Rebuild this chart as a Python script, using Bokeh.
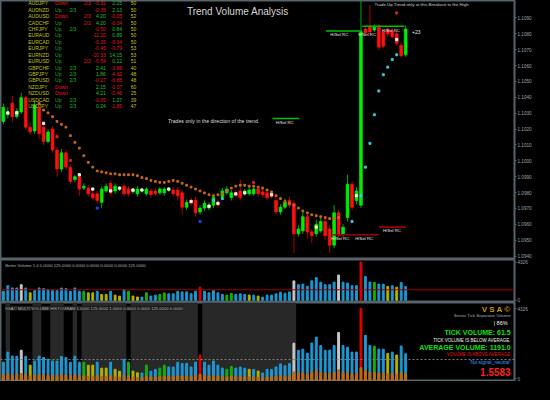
from bokeh.plotting import figure
from bokeh.layouts import column
from bokeh.models import (Range1d, FixedTicker, Span, Label, ColumnDataSource,
                          PrintfTickFormatter, BoxAnnotation, GlobalInlineStyleSheet)
from bokeh.core.properties import value
from bokeh.embed import file_html
from bokeh.resources import INLINE

# ---------------------------------------------------------------- data
open_ = [1.10248, 1.10290, 1.10362, 1.10278, 1.10308, 1.10398, 1.10212, 1.10188, 1.10332, 1.10212,
         1.10122, 1.10200, 1.10068, 1.09948, 1.10050, 1.09960, 1.09882, 1.09900, 1.09828, 1.09828,
         1.09792, 1.09792, 1.09738, 1.09810, 1.09858, 1.09810, 1.09822, 1.09840, 1.09822, 1.09804,
         1.09792, 1.09810, 1.09792, 1.09810, 1.09810, 1.09798, 1.09798, 1.09816, 1.09816, 1.09816,
         1.09798, 1.09708, 1.09750, 1.09750, 1.09678, 1.09702, 1.09702, 1.09720, 1.09738, 1.09774,
         1.09798, 1.09768, 1.09798, 1.09810, 1.09792, 1.09792, 1.09792, 1.09822, 1.09804, 1.09798,
         1.09798, 1.09750, 1.09678, 1.09708, 1.09750, 1.09732, 1.09540, 1.09558, 1.09648, 1.09552,
         1.09540, 1.09558, 1.09618, 1.09570, 1.09468, 1.09672, 1.09540, 1.09642, 1.09852, 1.09750,
         1.09720, 1.10830, 1.10842, 1.10824, 1.10848, 1.10812, 1.10830, 1.10818, 1.10800, 1.10728,
         1.10668]
high = [1.10362, 1.10338, 1.10410, 1.10332, 1.10428, 1.10410, 1.10242, 1.10380, 1.10350, 1.10230,
        1.10200, 1.10218, 1.10086, 1.10074, 1.10068, 1.09978, 1.09912, 1.09918, 1.09858, 1.09846,
        1.09810, 1.09810, 1.09840, 1.09858, 1.09876, 1.09858, 1.09840, 1.09858, 1.09840, 1.09828,
        1.09840, 1.09828, 1.09834, 1.09828, 1.09828, 1.09834, 1.09834, 1.09834, 1.09834, 1.09834,
        1.09816, 1.09756, 1.09768, 1.09774, 1.09720, 1.09750, 1.09738, 1.09786, 1.09756, 1.09828,
        1.09840, 1.09816, 1.09816, 1.09882, 1.09822, 1.09834, 1.09840, 1.09840, 1.09822, 1.09816,
        1.09810, 1.09780, 1.09726, 1.09762, 1.09774, 1.09750, 1.09594, 1.09678, 1.09672, 1.09570,
        1.09630, 1.09642, 1.09642, 1.09594, 1.09720, 1.09690, 1.09600, 1.09912, 1.09870, 1.09834,
        1.11070, 1.10848, 1.10980, 1.10860, 1.10860, 1.10830, 1.10848, 1.10836, 1.10818, 1.10746,
        1.10854]
low = [1.10230, 1.10266, 1.10242, 1.10266, 1.10296, 1.10194, 1.10164, 1.10170, 1.10140, 1.10098,
       1.10110, 1.10050, 1.09900, 1.09930, 1.09942, 1.09852, 1.09864, 1.09780, 1.09816, 1.09774,
       1.09750, 1.09732, 1.09702, 1.09798, 1.09780, 1.09792, 1.09810, 1.09774, 1.09774, 1.09792,
       1.09774, 1.09798, 1.09780, 1.09768, 1.09780, 1.09786, 1.09780, 1.09804, 1.09774, 1.09750,
       1.09660, 1.09690, 1.09714, 1.09648, 1.09660, 1.09684, 1.09690, 1.09702, 1.09708, 1.09756,
       1.09786, 1.09750, 1.09768, 1.09750, 1.09780, 1.09780, 1.09780, 1.09774, 1.09768, 1.09750,
       1.09762, 1.09660, 1.09660, 1.09696, 1.09702, 1.09420, 1.09522, 1.09540, 1.09510, 1.09480,
       1.09522, 1.09546, 1.09498, 1.09420, 1.09450, 1.09510, 1.09522, 1.09618, 1.09690, 1.09726,
       1.09702, 1.10794, 1.10794, 1.10812, 1.10698, 1.10710, 1.10782, 1.10770, 1.10722, 1.10650,
       1.10656]
close = [1.10338, 1.10302, 1.10278, 1.10314, 1.10398, 1.10212, 1.10182, 1.10350, 1.10170, 1.10122,
         1.10182, 1.10068, 1.09948, 1.10050, 1.09960, 1.09870, 1.09900, 1.09822, 1.09840, 1.09792,
         1.09768, 1.09750, 1.09822, 1.09840, 1.09798, 1.09840, 1.09828, 1.09792, 1.09792, 1.09816,
         1.09822, 1.09816, 1.09822, 1.09786, 1.09792, 1.09822, 1.09822, 1.09822, 1.09792, 1.09780,
         1.09708, 1.09738, 1.09732, 1.09672, 1.09702, 1.09732, 1.09720, 1.09768, 1.09720, 1.09810,
         1.09822, 1.09798, 1.09780, 1.09768, 1.09810, 1.09816, 1.09822, 1.09792, 1.09786, 1.09768,
         1.09774, 1.09678, 1.09708, 1.09738, 1.09720, 1.09540, 1.09570, 1.09648, 1.09552, 1.09528,
         1.09600, 1.09618, 1.09528, 1.09468, 1.09672, 1.09540, 1.09582, 1.09852, 1.09708, 1.09810,
         1.10812, 1.10806, 1.10812, 1.10842, 1.10716, 1.10722, 1.10800, 1.10782, 1.10740, 1.10662,
         1.10830]

# trailing-stop dots (bar 8 .. 75)
trail_start = 8
trail = [1.10362, 1.10320, 1.10302, 1.10278, 1.10248, 1.10230, 1.10212, 1.10158, 1.10116, 1.10080,
         1.10032, 1.09990, 1.09960, 1.09936, 1.09930, 1.09924, 1.09918, 1.09918, 1.09912, 1.09912,
         1.09912, 1.09912, 1.09906, 1.09894, 1.09888, 1.09876, 1.09870, 1.09864, 1.09864, 1.09870,
         1.09876, 1.09870, 1.09858, 1.09846, 1.09834, 1.09822, 1.09810, 1.09798, 1.09786, 1.09780,
         1.09786, 1.09792, 1.09810, 1.09828, 1.09840, 1.09846, 1.09846, 1.09840, 1.09840, 1.09834,
         1.09828, 1.09816, 1.09804, 1.09780, 1.09762, 1.09744, 1.09732, 1.09720, 1.09702, 1.09684,
         1.09672, 1.09660, 1.09654, 1.09648, 1.09642, 1.09636, 1.09636, 1.09642]

white_idx = [1, 3, 9, 17, 20, 24, 26, 29, 31, 37, 42, 46, 48, 52, 54, 60, 70, 79, 88]
white_px = [1.10302, 1.10302, 1.10236, 1.09912, 1.09822, 1.09810, 1.09828, 1.09816, 1.09816, 1.09822,
            1.09744, 1.09714, 1.09732, 1.09792, 1.09798, 1.09786, 1.09582, 1.09780, 1.10764]
cyan_idx = [47, 49, 78, 80, 81, 82, 83, 84, 85, 86, 87, 88]
cyan_px = [1.09750, 1.09762, 1.09618, 1.09780, 1.09960, 1.10110, 1.10290, 1.10440, 1.10542, 1.10590,
           1.10638, 1.10668]
blue_idx = [21, 44]
blue_px = [1.09702, 1.09618]
red_idx = [12, 15, 56, 88]
red_px = [1.10152, 1.10002, 1.09864, 1.10932]

# support / resistance levels
lvl_x0 = [60.2, 72.2, 80.3, 73.7, 84.0]
lvl_x1 = [66.2, 80.3, 89.7, 84.0, 90.0]
lvl_price = [1.10266, 1.10818, 1.10848, 1.09534, 1.09582]
lvl_kind = ["buy", "buy", "buy", "sell", "sell"]

# volume
volume = [1031, 1648, 1402, 1388, 1765, 1390, 846, 1097, 1399, 1318,
          1215, 1104, 1096, 1392, 1325, 1024, 1398, 1030, 1022, 841,
          849, 1033, 658, 664, 1027, 590, 474, 1208, 1031, 480,
          371, 364, 847, 473, 585, 662, 840, 737, 731, 1025,
          951, 957, 738, 1030, 1471, 1026, 842, 1104, 846, 659,
          590, 768, 664, 731, 657, 588, 585, 480, 365, 589,
          583, 738, 921, 805, 950, 2198, 1766, 1831, 1582, 2207,
          2572, 2050, 1759, 1768, 2061, 2859, 2052, 1948, 1649, 1655,
          4326, 2683, 2058, 2015, 1838, 1830, 1575, 1647, 1471, 2022,
          1545]
# N neutral, L low, C churn, U climax up, D climax down
vol_class = ("NNNNDNLNNN" "NNNNNNNNCL" "LNLLNLLNCL" "LNCNNCCNNN" "NNNNUNNNNN"
             "CCNNNLNLNN" "NNNNNDNNNN" "NNNNNDNNNN" "UNNCNNLNLN" "N")
bear_vol = [260, 310, 240, 290, 330, 270, 180, 220, 280, 250,
            230, 210, 200, 270, 240, 190, 260, 200, 190, 160,
            170, 200, 140, 130, 190, 120, 110, 230, 190, 100,
            90, 80, 170, 110, 120, 140, 170, 150, 150, 190,
            180, 180, 150, 200, 280, 200, 170, 210, 170, 140,
            120, 160, 140, 150, 130, 120, 120, 100, 90, 120,
            130, 160, 190, 170, 200, 430, 360, 380, 310, 450,
            520, 400, 350, 340, 420, 560, 400, 380, 330, 320,
            690, 520, 410, 400, 360, 350, 310, 330, 290, 400,
            300]
avg_volume = 1191.0
tick_volume = 61.5
band_lo = [0.5, 6.5, 10.5, 15.5, 17.5, 28.5, 44.5]
band_hi = [1.5, 8.5, 13.5, 16.5, 27.5, 43.5, 65.5]

# currency table
pairs = ["AUDJPY", "AUDNZD", "AUDUSD", "CADCHF", "CHFJPY", "EURAUD", "EURCAD", "EURJPY", "EURNZD",
         "EURUSD", "GBPCHF", "GBPJPY", "GBPUSD", "NZDJPY", "NZDUSD", "USDCAD", "USDJPY"]
trend = ["Down", "Up", "Down", "Up", "Up", "Up", "Up", "Up", "Up", "Up", "Up", "Up", "Up",
         "Down", "Down", "Up", "Up"]
votes_up = ["", "2/3", "", "", "2/3", "", "", "", "", "", "2/3", "2/3", "2/3", "", "", "2/3", "2/3"]
votes_dn = ["2/3", "", "2/3", "2/3", "", "", "", "", "", "2/3", "", "", "", "", "", "", ""]
chg1 = ["-0.31", "-0.35", "4.20", "4.20", "-0.50", "-11.20", "-0.35", "-0.45", "-10.33", "-0.54",
        "2.41", "1.86", "-0.27", "2.15", "4.21", "-0.35", "0.24"]
chg2 = ["2.15", "2.13", "-0.05", "-0.34", "0.84", "0.89", "-0.34", "-0.79", "14.15", "0.12",
        "-3.88", "-4.62", "-6.88", "-0.07", "-0.46", "1.27", "-1.85"]
strength = ["50", "50", "52", "50", "50", "50", "50", "53", "53", "51", "40", "48", "48", "60",
            "25", "39", "47"]

price_ticks = [1.0940, 1.0950, 1.0960, 1.0970, 1.0980, 1.0990, 1.1000, 1.1010, 1.1020,
               1.1030, 1.1040, 1.1050, 1.1060, 1.1070, 1.1080, 1.1090]

# ---------------------------------------------------------------- style
BG = "#000000"
EDGE = "#56636b"
AXT = "#9aa4ab"
UPC, DNC = "#00ee00", "#ff1010"
UPW, DNW = "#00a800", "#b00000"
VCOL = {"N": "#1b98d5", "L": "#b4b400", "C": "#12b012", "U": "#e00000", "D": "#c8c8c8"}
FONT = value("Liberation Sans")
FW = 514
n = len(close)
idx = list(range(n))
xr = Range1d(-0.64, 114.35)


def mx(px):   # reference pixel -> bar index
    return (px - 3) / 4.67


def my(py):   # reference pixel -> price (main panel)
    return 1.11010 - 0.00006 * py


def vy(py):   # reference pixel -> volume panel
    return (316 - py) * 110


def sy(py):   # reference pixel -> VSA panel
    return (400 - py) * 58


def make_fig(h, yr):
    p = figure(frame_width=FW, frame_height=h, x_range=xr, y_range=yr,
               output_backend="svg", toolbar_location=None, y_axis_location="right",
               x_axis_location=None, min_border=0, background_fill_color=BG,
               border_fill_color=BG, outline_line_color=EDGE, outline_line_width=2)
    p.grid.visible = False
    ax = p.yaxis[0]
    ax.axis_line_color = EDGE
    ax.major_tick_line_color = EDGE
    ax.minor_tick_line_color = None
    ax.major_tick_out = 2
    ax.major_tick_in = 0
    ax.major_label_standoff = 1
    ax.major_label_text_color = AXT
    ax.major_label_text_font_size = "4.6px"
    ax.major_label_text_font = "Liberation Sans"
    return p


# ---------------------------------------------------------------- main panel
pm = make_fig(259, Range1d(1.09378, 1.11010))
pm.yaxis[0].ticker = FixedTicker(ticks=price_ticks)
pm.yaxis[0].formatter = PrintfTickFormatter(format="%.4f")

bull = [c >= o for o, c in zip(open_, close)]
cs = ColumnDataSource(dict(
    x=idx, h=high, l=low,
    top=[max(o, c) for o, c in zip(open_, close)],
    bot=[min(o, c) for o, c in zip(open_, close)],
    body=[UPC if b else DNC for b in bull],
    wick=[UPW if b else DNW for b in bull]))
pm.segment("x", "h", "x", "l", source=cs, line_color="wick", line_width=1)
pm.vbar(x="x", width=0.62, top="top", bottom="bot", source=cs,
        fill_color="body", line_color="body", line_width=0.7)

pm.scatter(x=list(range(trail_start, trail_start + len(trail))), y=trail,
           marker="square", size=1.8, color="#c8681a")
pm.scatter(x=white_idx, y=white_px, marker="square", size=2.2, color="#f0f0f0")
pm.scatter(x=cyan_idx, y=cyan_px, marker="square", size=2, color="#38c8d8")
pm.scatter(x=blue_idx, y=blue_px, marker="square", size=2, color="#2040ff")
pm.scatter(x=red_idx, y=red_px, marker="square", size=2, color="#e02020")

pm.segment(x0=lvl_x0, x1=lvl_x1, y0=lvl_price, y1=lvl_price,
           line_color=["#00c000" if k == "buy" else "#a00000" for k in lvl_kind], line_width=1.6)

# table
rows_y = [my(3 + 6.75 * k) for k in range(len(pairs))]
tkw = dict(text_font_size="5px", text_baseline="middle", text_font=FONT)
pm.text(x=mx(29), y=rows_y, text=pairs, text_color="#c0c020", **tkw)
pm.text(x=mx(57), y=rows_y, text=trend,
        text_color=["#20b020" if t == "Up" else "#e01818" for t in trend], **tkw)
pm.text(x=mx(72), y=rows_y, text=votes_up, text_color="#20b020", **tkw)
pm.text(x=mx(87), y=rows_y, text=votes_dn, text_color="#e01818", **tkw)
pm.text(x=mx(110), y=rows_y, text=chg1, text_align="right",
        text_color=["#e01818" if v.startswith("-") else "#20c020" for v in chg1], **tkw)
pm.text(x=mx(127), y=rows_y, text=chg2, text_align="right",
        text_color=["#e01818" if v.startswith("-") else "#20c020" for v in chg2], **tkw)
pm.text(x=mx(136), y=rows_y, text=strength, text_color="#c0c020", **tkw)

pm.text(x=[mx(248)], y=[my(12)], text=["Trend Volume Analysis"], text_align="center",
        text_baseline="middle", text_font_size="10px", text_color="#d4d4d4", text_font=FONT)
pm.text(x=[mx(175)], y=[my(127)], text=["Trades only in the direction of the trend."],
        text_baseline="middle", text_font_size="5.2px", text_color="#dcdcdc", text_font=FONT)
pm.text(x=[mx(440)], y=[my(4)], text=["Trade Up Trend only at this Breakout to the High"],
        text_align="center", text_baseline="middle", text_font_size="4.4px",
        text_color="#cfcfcf", text_font=FONT)
hs_x = [mx(297), mx(354), mx(383), mx(408), mx(355), mx(380), mx(409)]
hs_y = [my(128), my(36), my(36), my(32), my(250), my(250), my(242)]
pm.text(x=hs_x, y=hs_y, text=["H/Sel RC"] * len(hs_x), text_align="center",
        text_baseline="middle", text_font_size="4.3px", text_color="#e8e8e8", text_font=FONT)
pm.text(x=[mx(430)], y=[my(33)], text=["+23"], text_baseline="middle",
        text_font_size="5px", text_color="#e8e8e8", text_font=FONT)

pm.add_layout(Label(x=xr.end, y=close[-1], x_offset=1, text=f"{close[-1]:.4f}",
                    text_font_size="4.6px", text_baseline="middle", text_color="#000000",
                    background_fill_color="#a8b2b8", text_font="Liberation Sans"))

# ---------------------------------------------------------------- volume panel
pv = make_fig(43, Range1d(-250, 4620))
pv.yaxis[0].ticker = FixedTicker(ticks=[0, max(volume)])
pv.yaxis[0].formatter = PrintfTickFormatter(format="%.0f")
pv.vbar(x=idx, top=volume, bottom=0, width=0.42, color=[VCOL[k] for k in vol_class])
pv.add_layout(Span(location=avg_volume, dimension="width", line_color="#a00000", line_width=1))
pv.add_layout(Label(x=mx(5), y=vy(280), text="Better Volume 1.4 0.0000 125.0000 0.0000 0.0000 0.0000 0.0000 125.0000",
                    text_font_size="4.2px", text_baseline="middle", text_color="#b0b0b0",
                    text_font="Liberation Sans"))

# ---------------------------------------------------------------- VSA panel
vsa_y = Range1d(-160, 4700)
ps = make_fig(79, vsa_y)
ps.yaxis[0].ticker = FixedTicker(ticks=[0, max(volume)])
ps.yaxis[0].formatter = PrintfTickFormatter(format="%.0f")
for a, b in zip(band_lo, band_hi):
    ps.add_layout(BoxAnnotation(left=a, right=b, fill_color="#282828", fill_alpha=1,
                                line_color=None, level="underlay"))
ps.vbar(x=idx, top=volume, bottom=vsa_y.start, width=0.42, color=[VCOL[k] for k in vol_class])
ps.vbar(x=idx, top=bear_vol, bottom=vsa_y.start, width=0.42, color="#c06a10")
ps.add_layout(Span(location=avg_volume, dimension="width", line_color="#808080",
                   line_width=1, line_dash="2 2"))
ps.add_layout(Label(x=mx(5), y=sy(325), text="VSA\u00a9 MULTI VOLUME HISTOGRAM 1.0000 125.0000 1.0000 0.0000 0.0000 125.0000 0.0000",
                    text_font_size="4.2px", text_baseline="middle", text_color="#b0b0b0",
                    background_fill_color="#1c1c1c", text_font="Liberation Sans"))
info = [("V S A \u00a9", 326, "8px", "#c8961e", "bold"),
        ("Senior Tick Separator Volume", 333, "4.3px", "#a8a8a8", "normal"),
        ("|   86%", 341, "5.5px", "#f0f0f0", "normal"),
        (f"TICK VOLUME: {tick_volume:.1f}", 351, "7px", "#10e010", "bold"),
        ("TICK VOLUME IS BELOW AVERAGE.", 359, "4.5px", "#f0f0f0", "normal"),
        (f"AVERAGE VOLUME: {avg_volume:.1f}", 367, "7px", "#10e010", "bold"),
        ("VOLUME IS ABOVE AVERAGE", 374, "4.5px", "#e01818", "normal"),
        ("'No signal_neutral'", 382, "5px", "#3a9cff", "normal"),
        ("1.5583", 393, "10px", "#ff2020", "bold")]
for t, py, fs, col, fw in info:
    ps.add_layout(Label(x=mx(533), y=sy(py), text=t, text_align="right", text_baseline="middle",
                        text_font_size=fs, text_color=col, text_font_style=fw,
                        text_font="Liberation Sans"))

layout = column(pm, pv, ps, spacing=0)
layout.stylesheets = [GlobalInlineStyleSheet(css="html, body { background: #000000; }")]
open("out.html", "w").write(file_html(layout, INLINE))
